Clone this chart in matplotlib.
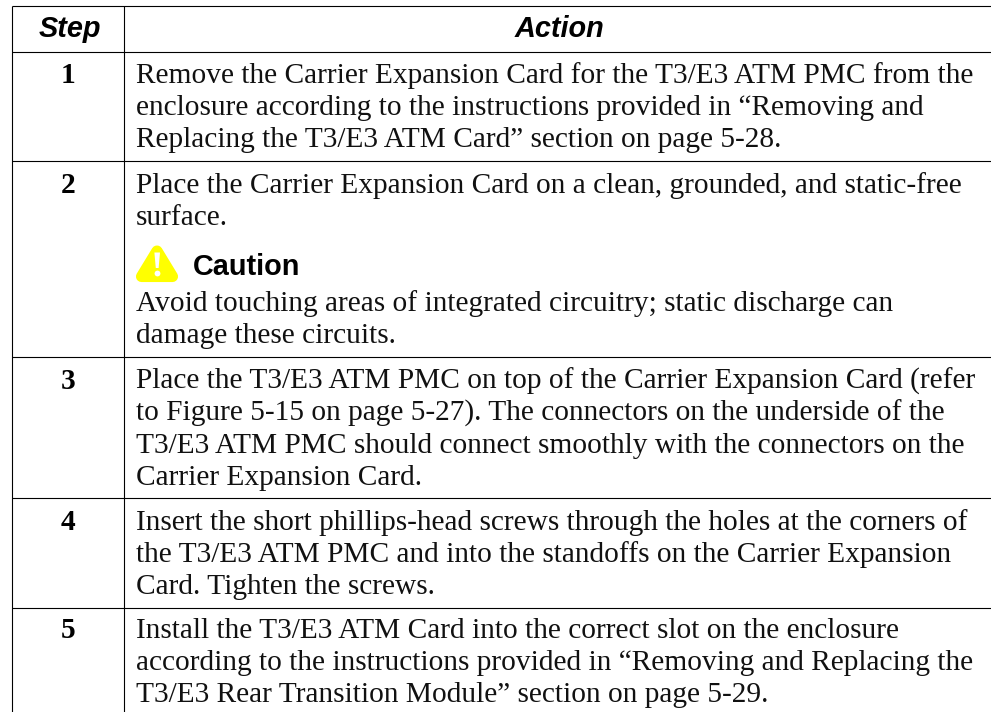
import matplotlib
matplotlib.use("Agg")
import matplotlib.pyplot as plt
from matplotlib.patches import Polygon

WIDTH, HEIGHT = 991, 712

headers = ["Step", "Action"]
steps = ["1", "2", "3", "4", "5"]

step1_text = [
    "Remove the Carrier Expansion Card for the T3/E3 ATM PMC from the",
    "enclosure according to the instructions provided in “Removing and",
    "Replacing the T3/E3 ATM Card” section on page 5-28.",
]
step2_text = [
    "Place the Carrier Expansion Card on a clean, grounded, and static-free",
    "surface.",
]
caution_title = "Caution"
caution_text = [
    "Avoid touching areas of integrated circuitry; static discharge can",
    "damage these circuits.",
]
step3_text = [
    "Place the T3/E3 ATM PMC on top of the Carrier Expansion Card (refer",
    "to Figure 5-15 on page 5-27). The connectors on the underside of the",
    "T3/E3 ATM PMC should connect smoothly with the connectors on the",
    "Carrier Expansion Card.",
]
step4_text = [
    "Insert the short phillips-head screws through the holes at the corners of",
    "the T3/E3 ATM PMC and into the standoffs on the Carrier Expansion",
    "Card. Tighten the screws.",
]
step5_text = [
    "Install the T3/E3 ATM Card into the correct slot on the enclosure",
    "according to the instructions provided in “Removing and Replacing the",
    "T3/E3 Rear Transition Module” section on page 5-29.",
]

SERIF = "Liberation Serif"
SANS = "Liberation Sans"
BODY = 21.2
HEAD = 20.8
LEAD = 32

fig = plt.figure(figsize=(WIDTH / 100, HEIGHT / 100), dpi=100)
ax = fig.add_axes([0, 0, 1, 1])
ax.set_xlim(0, WIDTH)
ax.set_ylim(HEIGHT, 0)
ax.axis("off")

# table rules, no border on the right side
left, mid = 12, 124
rows = [6, 52, 161, 357, 498, 608]
for y in rows:
    ax.plot([left, WIDTH], [y, y], color="black", lw=0.8, solid_capstyle="butt")
for x in [left, mid]:
    ax.plot([x, x], [rows[0], HEIGHT], color="black", lw=0.8, solid_capstyle="butt")

# header
ax.text(69.5, 37, headers[0], family=SANS, style="italic", weight="bold",
        fontsize=HEAD, ha="center", va="baseline")
ax.text(559, 37, headers[1], family=SANS, style="italic", weight="bold",
        fontsize=HEAD, ha="center", va="baseline")


def block(lines, y0):
    for i, s in enumerate(lines):
        ax.text(136, y0 + i * LEAD, s, family=SERIF, fontsize=BODY, va="baseline", color="#111111")


step_y = [83, 193, 389, 530, 638]
for s, y in zip(steps, step_y):
    ax.text(68, y, s, family=SERIF, weight="bold", fontsize=BODY, ha="center", va="baseline")

block(step1_text, 83)
block(step2_text, 193)
block(caution_text, 311)
block(step3_text, 389)
block(step4_text, 530)
block(step5_text, 638)

# caution icon
ax.add_patch(Polygon([(157, 251), (172.5, 276.5), (141.5, 276.5)], closed=True, facecolor="#ffff00",
                     edgecolor="#ffff00", lw=8, joinstyle="round"))
ax.add_patch(Polygon([(154.4, 252.5), (160, 252.5), (158.6, 268), (155.8, 268)], closed=True,
                     facecolor="white", edgecolor="none"))
ax.plot([157.2], [273], marker="o", ms=4.2, color="white", mew=0)
ax.text(192.5, 275, caution_title, family=SANS, weight="bold", fontsize=HEAD, va="baseline", color="black")

fig.savefig("out.png", dpi=100)
